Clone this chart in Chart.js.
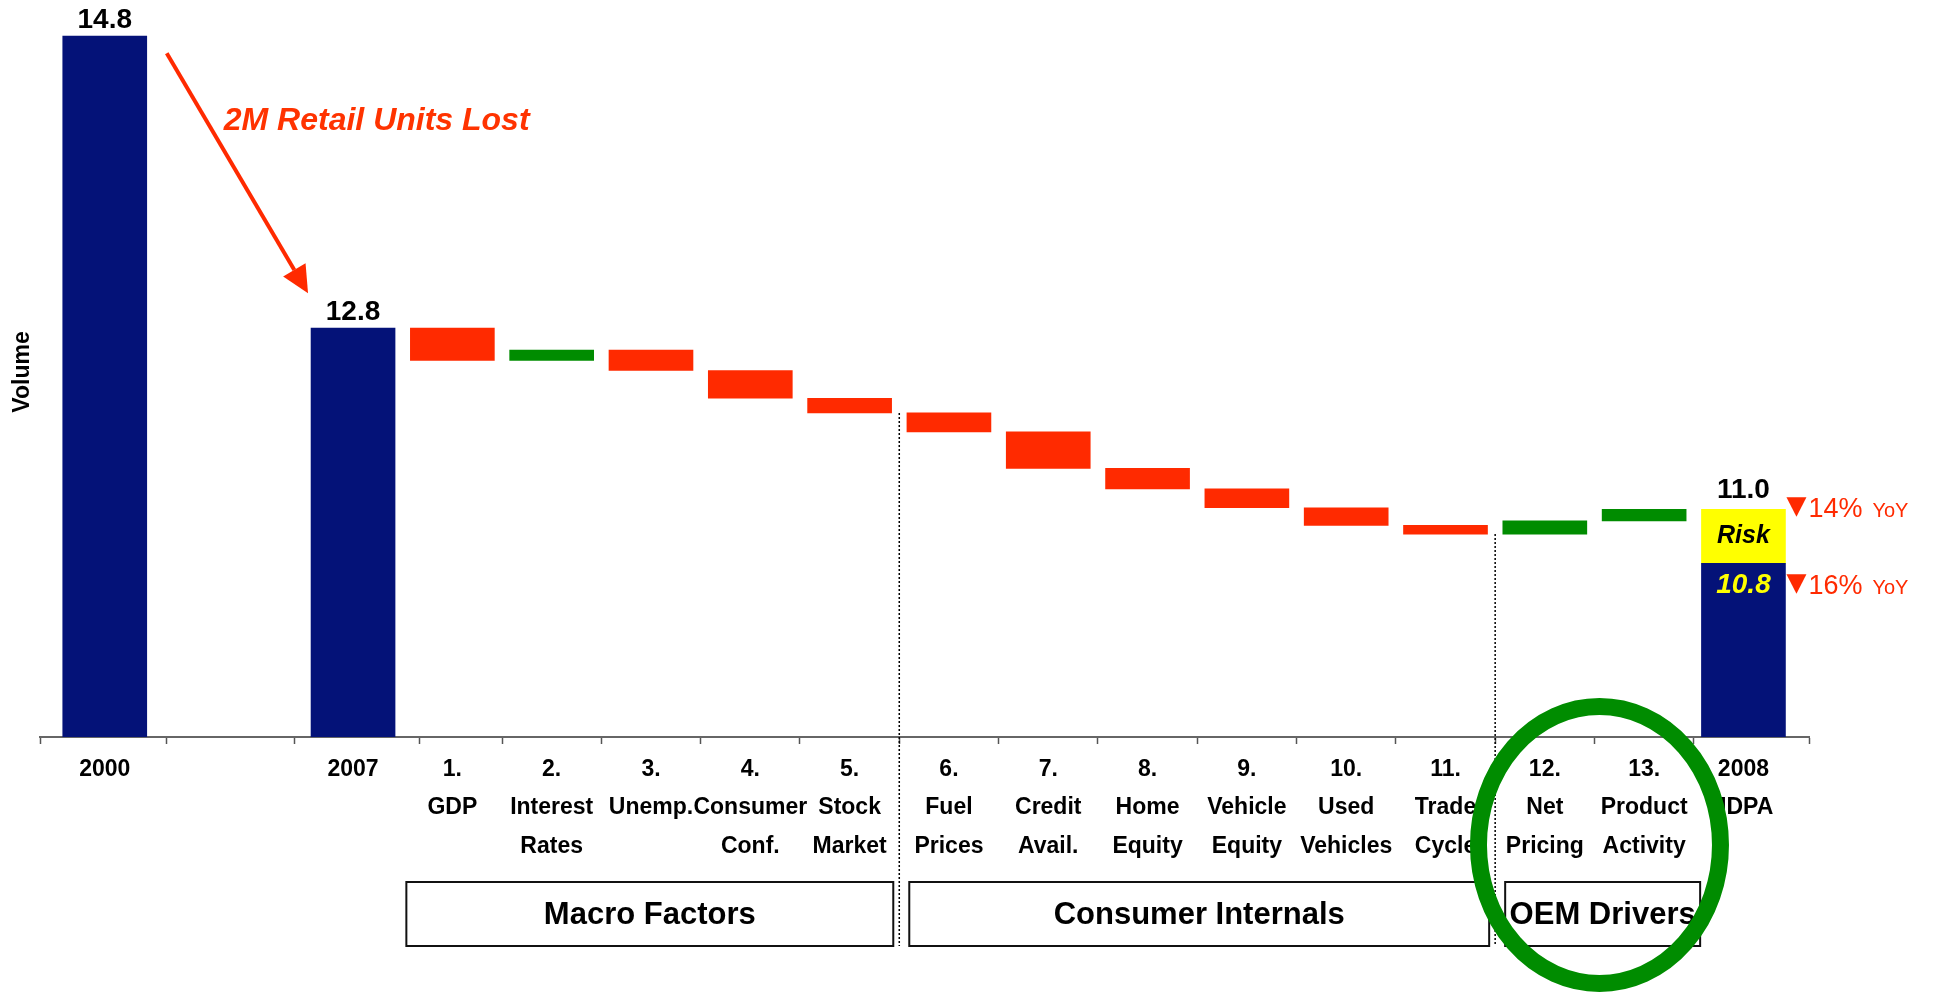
<!DOCTYPE html>
<html>
<head>
<meta charset="utf-8">
<title>Retail volume bridge 2007 - 2008</title>
<script src="https://cdn.jsdelivr.net/npm/chart.js@4.4.1/dist/chart.umd.min.js"></script>
<style>
    html, body { margin: 0; padding: 0; background: #fff; }
    #bridge { display: block; }
</style>
</head>
<body>
<canvas id="bridge" width="1936" height="1005"></canvas>
<script>
    "use strict";

    // Data (volume in M units). The drawing is not to scale at the right end,
    // so bar heights follow the picture and the printed totals are kept apart.
    const yearLabels = ['2000', '2007', '2008'];
    const yearNotes = ['', '', 'JDPA'];
    const startTotals = [14.8, 12.8];
    const totalLabels = ['14.8', '12.8', '11.0'];

    const factorNumbers = ['1.', '2.', '3.', '4.', '5.', '6.', '7.', '8.', '9.', '10.', '11.', '12.', '13.'];
    const factorNames = [
        ['GDP'], ['Interest', 'Rates'], ['Unemp.'], ['Consumer', 'Conf.'], ['Stock', 'Market'],
        ['Fuel', 'Prices'], ['Credit', 'Avail.'], ['Home', 'Equity'], ['Vehicle', 'Equity'],
        ['Used', 'Vehicles'], ['Trade', 'Cycle'], ['Net', 'Pricing'], ['Product', 'Activity']
    ];
    const factorChange = [-0.22, 0.07, -0.14, -0.19, -0.10, -0.13, -0.25, -0.14, -0.13, -0.12, -0.06, 0.09, 0.08];

    const base2008 = 11.19;
    const risk2008 = 0.37;
    const base2008Label = '10.8';
    const riskLabel = 'Risk';
    const yoyLabels = ['14%', '16%'];
    const yoySuffix = 'YoY';

    const groupNames = ['Macro Factors', 'Consumer Internals', 'OEM Drivers'];
    const groupSizes = [5, 6, 2];

    const lostLabel = '2M Retail Units Lost';
    const axisTitle = 'Volume';

    // Look
    const FONT = '"Liberation Sans", Arial, sans-serif';
    const NAVY = '#041278';
    const RED = '#FF2A00';
    const GREEN = '#008C00';
    const YELLOW = '#FFFF00';
    const BAR_W = 84;

    // x layout: 2000 and 2007 sit in wider slots, then one slot per column
    // k: 0 = 2000, 1 = 2007, 2..14 = factors, 15 = 2008
    function slotOf(k) {
        return k === 0 ? 0 : k + 1.5;
    }
    const xMin = -0.652, xMax = 17.16;
    const edgeTicks = [xMin, 0.625, 1.908, 3.17];
    for (let s = 4; s <= 16; s++) edgeTicks.push(s);
    edgeTicks.push(xMax);

    const tickLabels = new Map();
    tickLabels.set(slotOf(0), [yearLabels[0]]);
    tickLabels.set(slotOf(1), [yearLabels[1]]);
    factorNumbers.forEach(function (n, i) {
        tickLabels.set(slotOf(i + 2), [n].concat(factorNames[i]));
    });
    tickLabels.set(slotOf(15), [yearLabels[2], yearNotes[2]]);
    const tickValues = edgeTicks.concat(Array.from(tickLabels.keys())).sort(function (a, b) { return a - b; });

    // Waterfall
    let level = startTotals[1];
    const levels = [];
    const downBars = [], upBars = [];
    factorChange.forEach(function (d, i) {
        const next = level + d;
        const pt = { x: slotOf(i + 2), y: [Math.min(level, next), Math.max(level, next)] };
        if (d < 0) downBars.push(pt); else upBars.push(pt);
        level = next;
        levels.push(next);
    });

    const totalBars = [
        { x: slotOf(0), y: startTotals[0] },
        { x: slotOf(1), y: startTotals[1] },
        { x: slotOf(15), y: base2008 }
    ];
    const riskBars = [{ x: slotOf(15), y: [base2008, base2008 + risk2008] }];

    // Annotations
    var overlay = {
        id: 'overlay',
        afterDraw: function (chart) {
            const ctx = chart.ctx;
            const xs = chart.scales.x, ys = chart.scales.y, area = chart.chartArea;
            const px = function (k) { return xs.getPixelForValue(slotOf(k)); };
            const py = function (v) { return ys.getPixelForValue(v); };
            const half = BAR_W / 2;
            const top2008 = base2008 + risk2008;

            ctx.save();

            // totals
            ctx.fillStyle = '#000';
            ctx.textAlign = 'center';
            ctx.textBaseline = 'alphabetic';
            ctx.font = 'bold 28px ' + FONT;
            ctx.fillText(totalLabels[0], px(0), py(startTotals[0]) - 8);
            ctx.fillText(totalLabels[1], px(1), py(startTotals[1]) - 8);
            ctx.fillText(totalLabels[2], px(15), py(top2008) - 11);

            // risk / base labels inside 2008 bar
            ctx.textBaseline = 'middle';
            ctx.font = 'italic bold 25px ' + FONT;
            ctx.fillText(riskLabel, px(15), (py(top2008) + py(base2008)) / 2);
            ctx.fillStyle = YELLOW;
            ctx.font = 'italic bold 28px ' + FONT;
            ctx.fillText(base2008Label, px(15), py(base2008) + 22);

            // YoY markers
            [py(top2008) - 12, py(base2008) + 11].forEach(function (t, i) {
                const l = px(15) + half + 1;
                ctx.fillStyle = RED;
                ctx.beginPath();
                ctx.moveTo(l, t);
                ctx.lineTo(l + 20, t);
                ctx.lineTo(l + 10, t + 19.5);
                ctx.closePath();
                ctx.fill();
                ctx.textAlign = 'left';
                ctx.textBaseline = 'alphabetic';
                ctx.font = '27px ' + FONT;
                ctx.fillText(yoyLabels[i], l + 22, t + 20);
                const w = ctx.measureText(yoyLabels[i]).width;
                ctx.font = '20px ' + FONT;
                ctx.fillText(yoySuffix, l + 22 + w + 10, t + 20);
            });

            // arrow 2000 -> 2007
            const ax0 = px(0) + half + 20, ay0 = py(startTotals[0]) + 17;
            const ax1 = px(1) - half - 3, ay1 = py(startTotals[1]) - 35;
            const len = Math.hypot(ax1 - ax0, ay1 - ay0);
            const ux = (ax1 - ax0) / len, uy = (ay1 - ay0) / len;
            const hl = 27, hw = 13;
            ctx.strokeStyle = RED;
            ctx.fillStyle = RED;
            ctx.lineWidth = 4;
            ctx.beginPath();
            ctx.moveTo(ax0, ay0);
            ctx.lineTo(ax1 - ux * hl, ay1 - uy * hl);
            ctx.stroke();
            ctx.beginPath();
            ctx.moveTo(ax1, ay1);
            ctx.lineTo(ax1 - ux * hl - uy * hw, ay1 - uy * hl + ux * hw);
            ctx.lineTo(ax1 - ux * hl + uy * hw, ay1 - uy * hl - ux * hw);
            ctx.closePath();
            ctx.fill();

            ctx.fillStyle = '#FF3300';
            ctx.textAlign = 'left';
            ctx.textBaseline = 'middle';
            ctx.font = 'italic bold 32px ' + FONT;
            ctx.fillText(lostLabel, px(0) + 119, py(startTotals[0]) + 85);

            // dotted separators between groups
            const boxTop = area.bottom + 145, boxH = 64;
            const sepX = [];
            let k = 2;
            groupSizes.forEach(function (n, g) {
                const last = k + n - 1;
                if (g < groupSizes.length - 1) {
                    const sx = (px(last) + px(last + 1)) / 2;
                    sepX.push(sx);
                    ctx.setLineDash([2, 2]);
                    ctx.strokeStyle = '#000';
                    ctx.lineWidth = 1.5;
                    ctx.beginPath();
                    ctx.moveTo(sx, py(levels[last - 2]));
                    ctx.lineTo(sx, boxTop + boxH);
                    ctx.stroke();
                }
                k = last + 1;
            });
            ctx.setLineDash([]);

            // group boxes
            k = 2;
            groupNames.forEach(function (name, g) {
                const first = k, last = k + groupSizes[g] - 1;
                const x0 = g === 0 ? px(first) - half - 4 : sepX[g - 1] + 10;
                const x1 = g === groupNames.length - 1 ? px(last) + half + 14 : sepX[g] - 6;
                ctx.strokeStyle = '#111';
                ctx.lineWidth = 2;
                ctx.strokeRect(x0, boxTop, x1 - x0, boxH);
                ctx.fillStyle = '#000';
                ctx.textAlign = 'center';
                ctx.textBaseline = 'middle';
                ctx.font = 'bold 31px ' + FONT;
                ctx.fillText(name, (x0 + x1) / 2, boxTop + boxH / 2 + 1);
                k = last + 1;
            });

            // green ring round the OEM drivers
            ctx.strokeStyle = GREEN;
            ctx.lineWidth = 17;
            ctx.beginPath();
            ctx.ellipse((px(13) + px(14)) / 2 + 5, area.bottom + 108, 121, 138.5, 0, 0, Math.PI * 2);
            ctx.stroke();

            ctx.restore();
        }
    };

    new Chart(document.getElementById('bridge'), {
        type: 'bar',
        data: {
            datasets: [
                { label: 'Total', data: totalBars, backgroundColor: NAVY },
                { label: 'Risk', data: riskBars, backgroundColor: YELLOW },
                { label: 'Decrease', data: downBars, backgroundColor: RED },
                { label: 'Increase', data: upBars, backgroundColor: GREEN }
            ]
        },
        options: {
            responsive: false,
            animation: false,
            devicePixelRatio: 1,
            datasets: { bar: { grouped: false, barThickness: BAR_W, borderWidth: 0 } },
            layout: { padding: { top: 7, right: 127, bottom: 128, left: 0 } },
            plugins: {
                legend: { display: false },
                tooltip: { enabled: false }
            },
            scales: {
                x: {
                    type: 'linear',
                    min: xMin,
                    max: xMax,
                    offset: false,
                    afterBuildTicks: function (axis) {
                        axis.ticks = tickValues.map(function (v) { return { value: v }; });
                    },
                    afterFit: function (axis) { axis.height = 140; },
                    ticks: {
                        autoSkip: false,
                        maxRotation: 0,
                        minRotation: 0,
                        padding: 6,
                        color: '#000',
                        font: { family: FONT, size: 23, weight: 'bold', lineHeight: '38.5px' },
                        callback: function (value) { return tickLabels.get(value) || ''; }
                    },
                    grid: {
                        offset: false,
                        drawOnChartArea: false,
                        drawTicks: true,
                        tickLength: 7,
                        tickWidth: 1.5,
                        tickColor: function (c) {
                            return c.tick && edgeTicks.includes(c.tick.value) ? '#555' : 'rgba(0,0,0,0)';
                        }
                    },
                    border: { color: '#666', width: 2 }
                },
                y: {
                    min: 10,
                    max: 15,
                    beginAtZero: false,
                    ticks: { display: false },
                    grid: { display: false },
                    border: { display: false },
                    title: {
                        display: true,
                        text: axisTitle,
                        color: '#000',
                        font: { family: FONT, size: 23, weight: 'bold' },
                        padding: { top: 9, bottom: 0 }
                    },
                    afterFit: function (axis) { axis.width = 40; }
                }
            }
        },
        plugins: [overlay]
    });
</script>
</body>
</html>
